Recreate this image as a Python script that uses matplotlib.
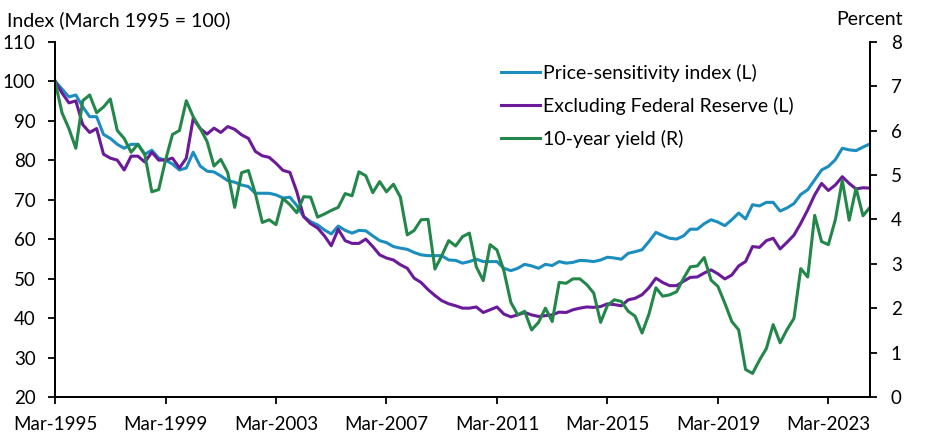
import pandas as pd
import matplotlib
matplotlib.use('Agg')
import matplotlib.pyplot as plt
import matplotlib.dates as mdates

# quarterly values, Mar-1995 to Sep-2024
price_index = [
    100, 98, 96, 96.5, 93.5, 91, 91, 86.5, 85.5, 84,
    83, 84, 84, 81.5, 82.5, 80.5, 80, 79, 77.5, 78,
    82, 78.5, 77.2, 77, 76, 74.8, 74.4, 73.7, 73.3, 71.6,
    71.6, 71.6, 71.2, 70.4, 70.6, 68.5, 65.7, 64.4, 63.6, 62.3,
    61.3, 63.3, 62.2, 61.5, 62.2, 62.1, 60.8, 59.6, 59.1, 58.1,
    57.7, 57.4, 56.6, 56.0, 55.8, 55.8, 55.8, 54.7, 54.6, 53.9,
    54.3, 54.9, 54.3, 54.3, 54.3, 52.6, 52.0, 52.6, 53.6, 53.2,
    52.6, 53.6, 53.3, 54.3, 53.9, 54.1, 54.6, 54.5, 54.3, 54.7,
    55.4, 55.2, 54.9, 56.4, 56.8, 57.3, 59.4, 61.7, 60.9, 60.2,
    60.0, 60.8, 62.5, 62.5, 63.9, 64.9, 64.3, 63.4, 64.9, 66.6,
    65.1, 68.7, 68.4, 69.3, 69.3, 67.1, 67.9, 69.0, 71.3, 72.5,
    75.0, 77.5, 78.4, 80.1, 83.0, 82.6, 82.4, 83.3, 84.1,
]
excl_fed = [
    100, 97, 94.5, 95, 89, 87, 88, 81.5, 80.5, 80,
    77.5, 81, 81, 79.5, 82, 80, 80, 80.5, 78, 80.5,
    90.5, 88, 86.6, 88.1, 87.0, 88.5, 87.8, 86.4, 85.5, 82.2,
    81.1, 80.7, 79.2, 77.4, 76.9, 72.0, 65.7, 63.9, 62.8, 60.8,
    58.3, 62.5, 59.6, 58.9, 58.9, 60.0, 58.1, 56.0, 55.2, 54.7,
    53.5, 52.6, 50.1, 49.0, 47.2, 45.7, 44.4, 43.6, 43.1, 42.5,
    42.5, 42.8, 41.4, 42.1, 42.8, 41.0, 40.3, 40.8, 41.4, 40.8,
    40.4, 40.6, 40.8, 41.5, 41.4, 42.1, 42.5, 42.8, 42.7, 42.9,
    43.6, 43.4, 43.1, 44.6, 45.0, 45.9, 47.7, 50.1, 49.0, 48.2,
    48.2, 49.3, 50.3, 50.4, 51.4, 52.2, 51.2, 49.9, 50.9, 53.2,
    54.3, 58.1, 57.9, 59.6, 60.2, 57.5, 59.2, 61.0, 64.0, 67.4,
    71.2, 74.1, 72.3, 73.7, 75.8, 74.1, 72.7, 73.0, 72.9,
]
yield_10y = [
    7.11, 6.4, 6.04, 5.6, 6.67, 6.8, 6.4, 6.53, 6.71, 6.0,
    5.82, 5.51, 5.69, 5.45, 4.62, 4.67, 5.33, 5.91, 6.0, 6.67,
    6.31, 6.05, 5.75, 5.2, 5.35, 5.05, 4.27, 5.05, 5.1, 4.58,
    3.93, 3.99, 3.88, 4.47, 4.33, 4.15, 4.51, 4.5, 4.05, 4.12,
    4.2, 4.27, 4.58, 4.53, 5.07, 4.98, 4.6, 4.85, 4.62, 4.79,
    4.5, 3.65, 3.75, 3.99, 4.0, 2.88, 3.18, 3.52, 3.4, 3.61,
    3.69, 2.93, 2.62, 3.43, 3.31, 2.84, 2.13, 1.85, 1.93, 1.51,
    1.68, 2.0, 1.7, 2.58, 2.56, 2.66, 2.66, 2.53, 2.34, 1.68,
    2.06, 2.19, 2.15, 1.93, 1.82, 1.44, 1.87, 2.46, 2.27, 2.30,
    2.37, 2.67, 2.93, 2.95, 3.14, 2.63, 2.49, 2.11, 1.70, 1.51,
    0.62, 0.53, 0.83, 1.09, 1.63, 1.22, 1.52, 1.77, 2.89, 2.7,
    4.09, 3.5, 3.43, 3.99, 4.88, 3.98, 4.7, 4.08, 4.27,
]
dates = pd.date_range('1995-03-01', periods=len(price_index), freq='3MS')
tick_dates = pd.date_range('1995-03-01', '2023-03-01', freq='48MS')

series_labels = ['Price-sensitivity index (L)', 'Excluding Federal Reserve (L)', '10-year yield (R)']
colors = ['#1b8dbf', '#6a1a9a', '#23874a']

plt.rcParams['font.family'] = ['Lato', 'DejaVu Sans']
fs_tick = 13.5
fs = 14

fig = plt.figure(figsize=(9.25, 4.41), dpi=100)
ax = fig.add_axes([0.0595, 0.0998, 0.881, 0.8057])
ax2 = ax.twinx()

l1, = ax.plot(dates, price_index, color=colors[0], lw=2.2)
l2, = ax.plot(dates, excl_fed, color=colors[1], lw=2.2)
l3, = ax2.plot(dates, yield_10y, color=colors[2], lw=2.2)

ax.set_xlim(dates[0], dates[-1])
ax.set_ylim(20, 110)
ax.set_yticks(range(20, 111, 10))
ax2.set_ylim(0, 8)
ax2.set_yticks(range(0, 9))

ax.set_xticks(tick_dates)
ax.xaxis.set_major_formatter(mdates.DateFormatter('%b-%Y'))

for a in (ax, ax2):
    a.spines['top'].set_visible(False)
    for s in a.spines.values():
        s.set_linewidth(1.3)
    a.tick_params(labelsize=fs_tick, length=5, width=1.3, direction='out')
ax.tick_params(axis='y', pad=9)
ax2.tick_params(axis='y', pad=10)
ax.tick_params(axis='x', pad=9)

fig.text(0.008, 0.955, 'Index (March 1995 = 100)', fontsize=fs, va='center', ha='left')
fig.text(0.976, 0.955, 'Percent', fontsize=fs, va='center', ha='right')

fig.legend([l1, l2, l3], series_labels, loc='upper left', bbox_to_anchor=(0.533, 0.872),
           frameon=False, fontsize=fs, handlelength=2.0, handletextpad=0.15,
           labelspacing=0.75, borderaxespad=0)

fig.savefig('out.png', dpi=100)
